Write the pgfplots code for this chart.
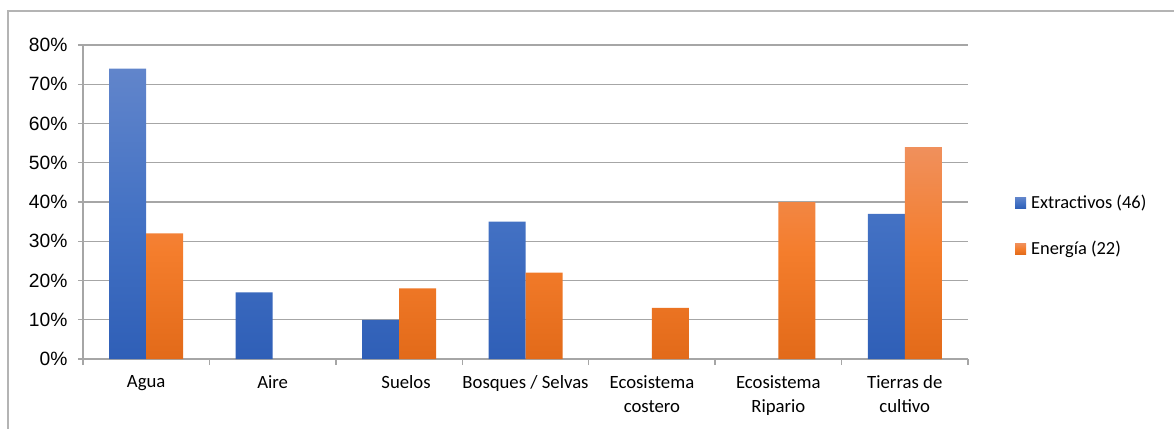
\documentclass[border=0pt]{standalone}
\usepackage{pgfplots}
\pgfplotsset{compat=1.18}
\usepackage{fontspec}
\setmainfont{Carlito}
\newfontfamily\arialfont{Liberation Sans}
\definecolor{gridgray}{HTML}{A6A6A6}
\definecolor{framegray}{HTML}{B4B4B4}
\definecolor{blueT}{HTML}{6185CB}
\definecolor{blueM}{HTML}{4472C4}
\definecolor{blueB}{HTML}{2F5FB7}
\definecolor{orT}{HTML}{F0905C}
\definecolor{orM}{HTML}{F47D2C}
\definecolor{orB}{HTML}{E26A19}
\begin{document}
\begin{tikzpicture}[x=1bp,y=1bp]
\path[use as bounding box] (0,0) rectangle (1174,428);
% chart frame
\draw[framegray, line width=1.5bp] (8,-5) -- (8,417) -- (1180,417);
\begin{axis}[
  at={(83bp,69bp)}, anchor=south west,
  width=885bp, height=314bp, scale only axis,
  xmin=-0.5, xmax=6.5, ymin=0, ymax=80,
  ybar=0pt, bar width=37bp,
  axis x line*=bottom, axis y line*=left,
  axis line style={-, draw=gridgray, line width=1.3bp},
  ytick={0,10,...,80},
  yticklabels={0\%,10\%,20\%,30\%,40\%,50\%,60\%,70\%,80\%},
  ymajorgrids, grid style={draw=gridgray, line width=1.3bp},
  xtick={0,...,6},
  xticklabels={Agua, Aire, \hspace*{14bp}Suelos, Bosques / Selvas, {Ecosistema\\costero}, {Ecosistema\\Ripario}, {Tierras de\\cultivo}},
  minor xtick={-0.5,0.5,...,6.5},
  major x tick style={draw=none},
  tick style={draw=gridgray, line width=1.3bp},
  tick align=outside,
  major tick length=5bp, minor tick length=6bp,
  xticklabel style={align=center, font=\fontsize{18.8}{24.5}\selectfont, yshift=-8bp},
  yticklabel style={font=\arialfont\fontsize{19.3}{19.3}\selectfont, xshift=-7bp},
  legend style={at={(1.053,0.424)}, anchor=west, draw=none, fill=none,
    font=\fontsize{18.5}{22}\selectfont, row sep=27bp, inner sep=0pt,
    /tikz/every odd column/.append style={column sep=3bp}},
  legend cell align=left,
]
\addplot[draw=none, top color=blueT, bottom color=blueB, middle color=blueM,
  legend image code/.code={\fill[blueM] (0bp,-5.5bp) rectangle (11bp,5.5bp);}]
  coordinates {(0,74) (1,17) (2,10) (3,35) (6,37)};
\addlegendentry{Extractivos (46)}
\addplot[draw=none, top color=orT, bottom color=orB, middle color=orM,
  legend image code/.code={\fill[orM] (0bp,-5.5bp) rectangle (11bp,5.5bp);}]
  coordinates {(0,32) (2,18) (3,22) (4,13) (5,40) (6,54)};
\addlegendentry{Energía (22)}
\end{axis}
\end{tikzpicture}
\end{document}
